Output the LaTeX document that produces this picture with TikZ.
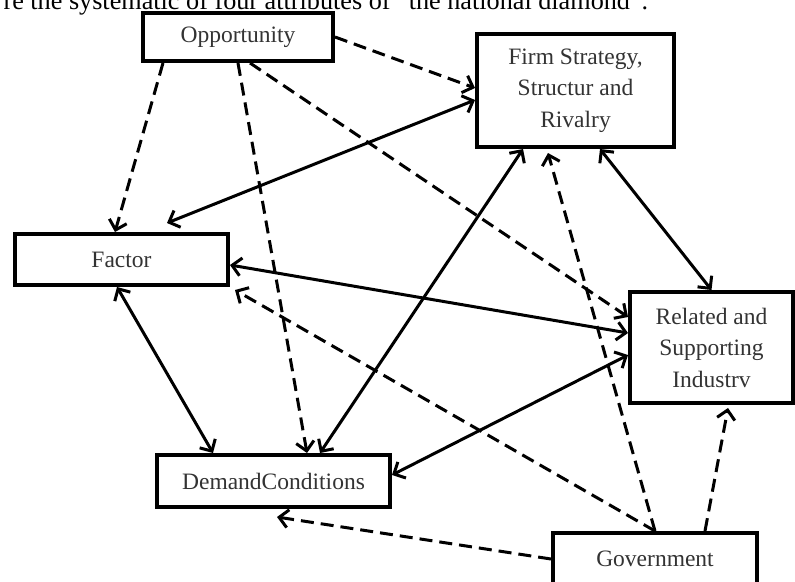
\documentclass[tikz,border=0pt]{standalone}
\usepackage{fontspec}
\setmainfont{Liberation Serif}
\usetikzlibrary{arrows.meta}

\begin{document}
\begin{tikzpicture}[x=1pt,y=-1pt,
  box/.style={draw,line width=4pt,fill=white,text=black!80,align=center,
    font=\fontsize{23.5}{31.5}\selectfont,inner sep=0pt},
  biarrow/.style={line width=3pt,
    {Straight Barb[length=9pt,width=18pt]}-{Straight Barb[length=9pt,width=18pt]}},
  dasharrow/.style={line width=3pt,dash pattern=on 13pt off 7pt,
    -{Straight Barb[length=9pt,width=18pt]}}]
  \useasboundingbox (0,0) rectangle (795,581);
  \node[anchor=base west,font=\fontsize{26.2}{30}\selectfont] (title) at (0,9)
    {re the systematic of four attributes of “the national diamond”.};
  \node[box,minimum width=190pt,minimum height=48pt] (opp) at (238,37) {Opportunity};
  \node[box,minimum width=197pt,minimum height=113pt] (firm) at (575.5,90.5)
    {Firm Strategy,\\Structur and\\Rivalry};
  \node[box,minimum width=213pt,minimum height=51pt] (factor) at (121.5,259.5) {Factor};
  \node[box,minimum width=163pt,minimum height=111pt] (related) at (711.5,347.5)
    {Related and\\Supporting\\Industrv};
  \node[box,minimum width=233pt,minimum height=52pt] (demand) at (273.5,481) {DemandConditions};
  \node[box,minimum width=204pt,minimum height=52pt] (gov) at (655,559) {Government};

  \draw[dasharrow] (opp.east) -- ([yshift=2.5pt]firm.west);
  \draw[dasharrow] ([xshift=-75pt]opp.south) -- ([xshift=-6.5pt]factor.north);
  \draw[dasharrow] (opp.south) -- ([xshift=33.5pt]demand.north);
  \draw[dasharrow] ([xshift=12pt]opp.south) -- ([yshift=30.5pt]related.west);

  \draw[biarrow] ([xshift=45.5pt,yshift=9pt]factor.north) -- ([yshift=-9.5pt]firm.west);
  \draw[biarrow] ([yshift=-5.5pt]factor.east) -- ([yshift=14.5pt]related.west);
  \draw[biarrow] ([xshift=-4.5pt]factor.south) -- ([xshift=-60.5pt]demand.north);
  \draw[biarrow] ([xshift=-52.5pt]firm.south) -- ([xshift=46.5pt]demand.north);
  \draw[biarrow] ([xshift=24.5pt]firm.south) -- (related.north);
  \draw[biarrow] ([yshift=6pt]demand.east) -- ([yshift=-7.5pt]related.west);

  \draw[dasharrow] (gov.west) -- ([xshift=3.5pt,yshift=-8pt]demand.south);
  \draw[dasharrow] (gov.north) -- ([xshift=5pt,yshift=-3pt]factor.south east);
  \draw[dasharrow] (gov.north) -- ([xshift=-27.5pt,yshift=-4pt]firm.south);
  \draw[dasharrow] ([xshift=50pt]gov.north) -- ([xshift=16.5pt,yshift=-3pt]related.south);
\end{tikzpicture}
\end{document}
